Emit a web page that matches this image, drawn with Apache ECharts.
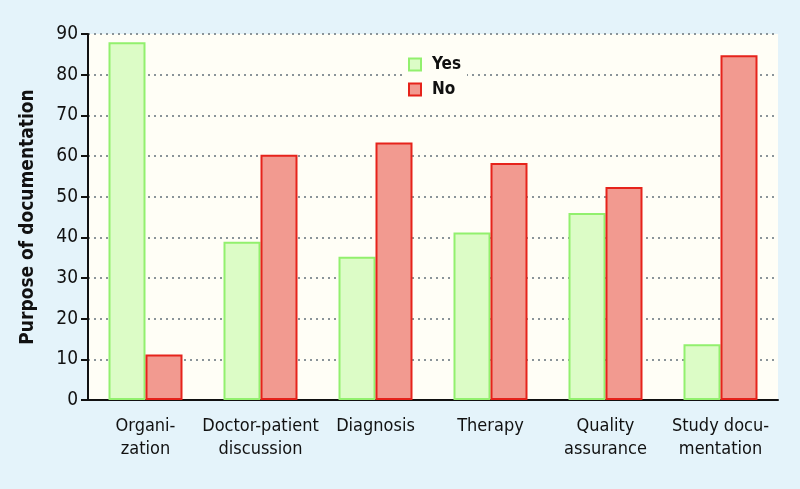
<!DOCTYPE html>
<html>
<head>
<meta charset="utf-8">
<script src="https://cdn.jsdelivr.net/npm/echarts@6/dist/echarts.min.js"></script>
<style>
  html, body { margin: 0; padding: 0; background: #e4f3fa; }
  #main { width: 800px; height: 489px; }
</style>
</head>
<body>
<div id="main"></div>
<script>
// categories and values
var categories = ['Organi-\nzation', 'Doctor-patient\ndiscussion', 'Diagnosis', 'Therapy', 'Quality\nassurance', 'Study docu-\nmentation'];
var yesValues = [88, 38.9, 35.2, 41.2, 46.0, 13.7];
var noValues = [11.2, 60.3, 63.3, 58.3, 52.4, 84.8];

var font = "'DejaVu Sans Condensed', 'Liberation Sans Narrow', sans-serif";

var chart = echarts.init(document.getElementById('main'), null, { renderer: 'canvas' });

var option = {
  backgroundColor: '#e4f3fa',
  textStyle: { fontFamily: font },
  grid: {
    left: 88,
    right: 22,
    top: 34,
    bottom: 89,
    show: true,
    backgroundColor: '#fffef6',
    borderWidth: 0
  },
  legend: {
    orient: 'vertical',
    left: 404,
    top: 54,
    icon: 'rect',
    itemWidth: 12,
    itemHeight: 12,
    itemGap: 8,
    padding: [2, 6, 2, 4],
    backgroundColor: '#fffef6',
    textStyle: { fontFamily: font, fontSize: 17, fontWeight: 'bold', color: '#111', padding: [0, 0, 0, 6] },
    data: ['Yes', 'No']
  },
  xAxis: {
    type: 'category',
    data: categories,
    boundaryGap: true,
    axisLine: { lineStyle: { color: '#111', width: 2 } },
    axisTick: { length: 8, lineStyle: { color: '#111', width: 2 } },
    axisLabel: {
      color: '#111',
      fontSize: 18,
      fontFamily: font,
      margin: 15,
      lineHeight: 23,
      verticalAlign: 'top',
      interval: 0
    }
  },
  yAxis: {
    type: 'value',
    min: 0,
    max: 90,
    interval: 10,
    name: 'Purpose of documentation',
    nameLocation: 'middle',
    nameGap: 50,
    nameTextStyle: { fontFamily: font, fontSize: 19, fontWeight: 'bold', color: '#111' },
    axisLine: { show: true, lineStyle: { color: '#111', width: 2 } },
    axisTick: { show: true, length: 7, lineStyle: { color: '#111', width: 2 } },
    axisLabel: { color: '#111', fontSize: 19, fontFamily: font, margin: 10 },
    splitLine: { show: true, lineStyle: { color: '#8a9499', type: [2, 4], width: 2 } }
  },
  series: [
    {
      name: 'Yes',
      type: 'bar',
      data: yesValues,
      barWidth: 37,
      barGap: '0%',
      itemStyle: { color: '#dcfcc6', borderColor: '#92f06e', borderWidth: 2 }
    },
    {
      name: 'No',
      type: 'bar',
      data: noValues,
      barWidth: 37,
      itemStyle: { color: '#f29a90', borderColor: '#e6231b', borderWidth: 2 }
    }
  ]
};

chart.setOption(option);
</script>
</body>
</html>
